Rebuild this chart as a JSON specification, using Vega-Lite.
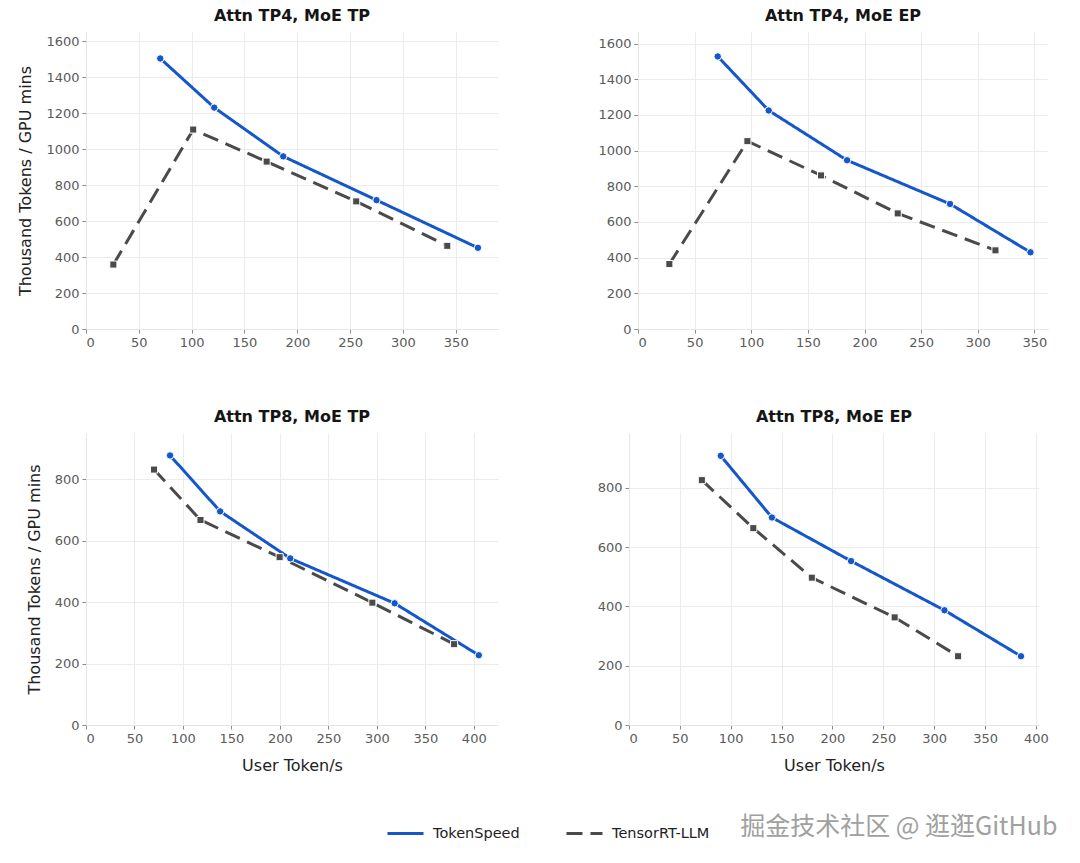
{
  "$schema": "https://vega.github.io/schema/vega-lite/v6.json",
  "background": "white",
  "padding": {"left": 17, "top": 8, "right": 10, "bottom": 5},
  "datasets": {
    "perf": [
      {"panel": "a", "series": "TokenSpeed", "x": 70.3, "y": 1503},
      {"panel": "a", "series": "TokenSpeed", "x": 121.4, "y": 1230},
      {"panel": "a", "series": "TokenSpeed", "x": 186.7, "y": 959},
      {"panel": "a", "series": "TokenSpeed", "x": 275, "y": 716},
      {"panel": "a", "series": "TokenSpeed", "x": 371, "y": 451},
      {"panel": "a", "series": "TensorRT-LLM", "x": 25.9, "y": 358},
      {"panel": "a", "series": "TensorRT-LLM", "x": 101.5, "y": 1108},
      {"panel": "a", "series": "TensorRT-LLM", "x": 171, "y": 930},
      {"panel": "a", "series": "TensorRT-LLM", "x": 255.8, "y": 709},
      {"panel": "a", "series": "TensorRT-LLM", "x": 342, "y": 462},
      {"panel": "b", "series": "TokenSpeed", "x": 70.4, "y": 1528},
      {"panel": "b", "series": "TokenSpeed", "x": 115.4, "y": 1225},
      {"panel": "b", "series": "TokenSpeed", "x": 184.6, "y": 946},
      {"panel": "b", "series": "TokenSpeed", "x": 275.5, "y": 701},
      {"panel": "b", "series": "TokenSpeed", "x": 346.5, "y": 430},
      {"panel": "b", "series": "TensorRT-LLM", "x": 27.7, "y": 364},
      {"panel": "b", "series": "TensorRT-LLM", "x": 96.6, "y": 1053},
      {"panel": "b", "series": "TensorRT-LLM", "x": 161.6, "y": 861},
      {"panel": "b", "series": "TensorRT-LLM", "x": 229.3, "y": 648},
      {"panel": "b", "series": "TensorRT-LLM", "x": 315.6, "y": 441},
      {"panel": "c", "series": "TokenSpeed", "x": 86.7, "y": 877},
      {"panel": "c", "series": "TokenSpeed", "x": 138.4, "y": 695},
      {"panel": "c", "series": "TokenSpeed", "x": 210.7, "y": 542},
      {"panel": "c", "series": "TokenSpeed", "x": 318.4, "y": 396},
      {"panel": "c", "series": "TokenSpeed", "x": 405.2, "y": 227},
      {"panel": "c", "series": "TensorRT-LLM", "x": 70.2, "y": 831},
      {"panel": "c", "series": "TensorRT-LLM", "x": 118.1, "y": 667},
      {"panel": "c", "series": "TensorRT-LLM", "x": 199.7, "y": 546},
      {"panel": "c", "series": "TensorRT-LLM", "x": 295.4, "y": 398},
      {"panel": "c", "series": "TensorRT-LLM", "x": 379.7, "y": 263},
      {"panel": "d", "series": "TokenSpeed", "x": 90.2, "y": 908},
      {"panel": "d", "series": "TokenSpeed", "x": 140.5, "y": 700},
      {"panel": "d", "series": "TokenSpeed", "x": 218.3, "y": 553},
      {"panel": "d", "series": "TokenSpeed", "x": 310.1, "y": 387},
      {"panel": "d", "series": "TokenSpeed", "x": 385.3, "y": 232},
      {"panel": "d", "series": "TensorRT-LLM", "x": 71.6, "y": 826},
      {"panel": "d", "series": "TensorRT-LLM", "x": 122.2, "y": 664},
      {"panel": "d", "series": "TensorRT-LLM", "x": 179.7, "y": 497},
      {"panel": "d", "series": "TensorRT-LLM", "x": 261.1, "y": 363},
      {"panel": "d", "series": "TensorRT-LLM", "x": 323.5, "y": 232}
    ]
  },
  "data": {"name": "perf"},
  "title": {
    "text": "掘金技术社区 @ 逛逛GitHub",
    "orient": "bottom",
    "anchor": "end",
    "font": "Noto Sans CJK SC",
    "fontSize": 25,
    "fontWeight": "normal",
    "color": "#a0a0a0",
    "offset": -25,
    "dx": 9
  },
  "vconcat": [
    {
      "hconcat": [
        {
          "width": 412,
          "height": 297,
          "title": "Attn TP4, MoE TP",
          "transform": [{"filter": "datum.panel == 'a'"}],
          "encoding": {
            "x": {"field": "x", "type": "quantitative", "title": null,
                  "scale": {"domain": [0, 390], "nice": false},
                  "axis": {"values": [0, 50, 100, 150, 200, 250, 300, 350]}},
            "y": {"field": "y", "type": "quantitative", "title": "Thousand Tokens / GPU mins",
                  "scale": {"domain": [0, 1650], "nice": false},
                  "axis": {"values": [0, 200, 400, 600, 800, 1000, 1200, 1400, 1600]}}
          },
          "layer": [
            {
              "mark": {"type": "line", "strokeWidth": 3},
              "encoding": {
                "color": {"field": "series", "type": "nominal", "title": null,
                          "scale": {"domain": ["TokenSpeed", "TensorRT-LLM"], "range": ["#1456cc", "#4a4a4a"]},
                          "legend": {"orient": "none", "legendX": 300, "legendY": 782, "direction": "horizontal", "symbolType": "stroke"}},
                "strokeDash": {"field": "series", "type": "nominal", "title": null,
                               "scale": {"domain": ["TokenSpeed", "TensorRT-LLM"], "range": [[1, 0], [16, 8]]}}
              }
            },
            {
              "transform": [{"filter": "datum.series == 'TokenSpeed'"}],
              "mark": {"type": "point", "shape": "circle", "filled": true, "opacity": 1, "size": 55, "color": "#1456cc", "stroke": "white", "strokeWidth": 1}
            },
            {
              "transform": [{"filter": "datum.series == 'TensorRT-LLM'"}],
              "mark": {"type": "point", "shape": "square", "filled": true, "opacity": 1, "size": 50, "color": "#4a4a4a", "stroke": "white", "strokeWidth": 1}
            }
          ]
        },
        {
          "width": 410,
          "height": 297,
          "title": "Attn TP4, MoE EP",
          "transform": [{"filter": "datum.panel == 'b'"}],
          "encoding": {
            "x": {"field": "x", "type": "quantitative", "title": null,
                  "scale": {"domain": [0, 362], "nice": false},
                  "axis": {"values": [0, 50, 100, 150, 200, 250, 300, 350]}},
            "y": {"field": "y", "type": "quantitative", "title": null,
                  "scale": {"domain": [0, 1665], "nice": false},
                  "axis": {"values": [0, 200, 400, 600, 800, 1000, 1200, 1400, 1600]}}
          },
          "layer": [
            {
              "mark": {"type": "line", "strokeWidth": 3},
              "encoding": {
                "color": {"field": "series", "type": "nominal", "title": null,
                          "scale": {"domain": ["TokenSpeed", "TensorRT-LLM"], "range": ["#1456cc", "#4a4a4a"]}},
                "strokeDash": {"field": "series", "type": "nominal", "title": null,
                               "scale": {"domain": ["TokenSpeed", "TensorRT-LLM"], "range": [[1, 0], [16, 8]]}}
              }
            },
            {
              "transform": [{"filter": "datum.series == 'TokenSpeed'"}],
              "mark": {"type": "point", "shape": "circle", "filled": true, "opacity": 1, "size": 55, "color": "#1456cc", "stroke": "white", "strokeWidth": 1}
            },
            {
              "transform": [{"filter": "datum.series == 'TensorRT-LLM'"}],
              "mark": {"type": "point", "shape": "square", "filled": true, "opacity": 1, "size": 50, "color": "#4a4a4a", "stroke": "white", "strokeWidth": 1}
            }
          ]
        }
      ],
      "spacing": 99
    },
    {
      "hconcat": [
        {
          "width": 412,
          "height": 292,
          "title": "Attn TP8, MoE TP",
          "transform": [{"filter": "datum.panel == 'c'"}],
          "encoding": {
            "x": {"field": "x", "type": "quantitative", "title": "User Token/s",
                  "scale": {"domain": [0, 425], "nice": false},
                  "axis": {"values": [0, 50, 100, 150, 200, 250, 300, 350, 400]}},
            "y": {"field": "y", "type": "quantitative", "title": "Thousand Tokens / GPU mins",
                  "scale": {"domain": [0, 950], "nice": false},
                  "axis": {"values": [0, 200, 400, 600, 800]}}
          },
          "layer": [
            {
              "mark": {"type": "line", "strokeWidth": 3},
              "encoding": {
                "color": {"field": "series", "type": "nominal", "title": null,
                          "scale": {"domain": ["TokenSpeed", "TensorRT-LLM"], "range": ["#1456cc", "#4a4a4a"]}},
                "strokeDash": {"field": "series", "type": "nominal", "title": null,
                               "scale": {"domain": ["TokenSpeed", "TensorRT-LLM"], "range": [[1, 0], [16, 8]]}}
              }
            },
            {
              "transform": [{"filter": "datum.series == 'TokenSpeed'"}],
              "mark": {"type": "point", "shape": "circle", "filled": true, "opacity": 1, "size": 55, "color": "#1456cc", "stroke": "white", "strokeWidth": 1}
            },
            {
              "transform": [{"filter": "datum.series == 'TensorRT-LLM'"}],
              "mark": {"type": "point", "shape": "square", "filled": true, "opacity": 1, "size": 50, "color": "#4a4a4a", "stroke": "white", "strokeWidth": 1}
            }
          ]
        },
        {
          "width": 410,
          "height": 292,
          "title": "Attn TP8, MoE EP",
          "transform": [{"filter": "datum.panel == 'd'"}],
          "encoding": {
            "x": {"field": "x", "type": "quantitative", "title": "User Token/s",
                  "scale": {"domain": [0, 403], "nice": false},
                  "axis": {"values": [0, 50, 100, 150, 200, 250, 300, 350, 400]}},
            "y": {"field": "y", "type": "quantitative", "title": null,
                  "scale": {"domain": [0, 985], "nice": false},
                  "axis": {"values": [0, 200, 400, 600, 800]}}
          },
          "layer": [
            {
              "mark": {"type": "line", "strokeWidth": 3},
              "encoding": {
                "color": {"field": "series", "type": "nominal", "title": null,
                          "scale": {"domain": ["TokenSpeed", "TensorRT-LLM"], "range": ["#1456cc", "#4a4a4a"]}},
                "strokeDash": {"field": "series", "type": "nominal", "title": null,
                               "scale": {"domain": ["TokenSpeed", "TensorRT-LLM"], "range": [[1, 0], [16, 8]]}}
              }
            },
            {
              "transform": [{"filter": "datum.series == 'TokenSpeed'"}],
              "mark": {"type": "point", "shape": "circle", "filled": true, "opacity": 1, "size": 55, "color": "#1456cc", "stroke": "white", "strokeWidth": 1}
            },
            {
              "transform": [{"filter": "datum.series == 'TensorRT-LLM'"}],
              "mark": {"type": "point", "shape": "square", "filled": true, "opacity": 1, "size": 50, "color": "#4a4a4a", "stroke": "white", "strokeWidth": 1}
            }
          ]
        }
      ],
      "spacing": 99
    }
  ],
  "spacing": 60,
  "resolve": {"scale": {"color": "shared", "strokeDash": "shared"}},
  "config": {
    "font": "DejaVu Sans",
    "view": {"stroke": null},
    "title": {"fontSize": 16, "fontWeight": "bold", "color": "#151515", "offset": 8},
    "axis": {
      "format": "d",
      "domainColor": "#e6e6e6",
      "gridColor": "#ececec",
      "tickColor": "#8a8a8a",
      "tickSize": 4,
      "labelColor": "#5a5a5a",
      "labelFontSize": 13,
      "labelPadding": 3,
      "titleFontSize": 16,
      "titleFontWeight": "normal",
      "titleColor": "#222222",
      "titlePadding": 12
    },
    "legend": {
      "labelFontSize": 14.5,
      "labelColor": "#222222",
      "symbolStrokeWidth": 3,
      "symbolSize": 1296,
      "labelOffset": 8,
      "columnPadding": 40
    }
  }
}
